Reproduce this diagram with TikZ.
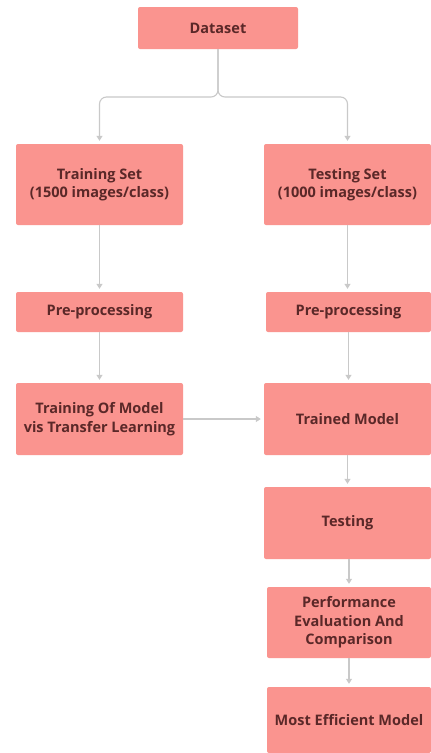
\documentclass[tikz,border=0pt]{standalone}
\usepackage{fontspec}
\setmainfont{Open Sans}
\usetikzlibrary{arrows.meta}
\definecolor{boxfill}{HTML}{FA948F}
\definecolor{boxtext}{HTML}{5A2828}
\definecolor{linegray}{HTML}{C9C9C9}
\begin{document}
\begin{tikzpicture}[x=1pt,y=-1pt,
  box/.style={rectangle, rounded corners=2pt, fill=boxfill, draw=none, text=boxtext,
    font=\fontsize{14.5}{18.5}\selectfont\bfseries, align=center, inner sep=0pt},
  conn/.style={draw=linegray, line width=1.1pt},
  arr/.style={conn, -{Triangle[length=5pt,width=6pt]}, shorten >=3pt}]
\useasboundingbox[fill=white] (0,0) rectangle (431,753);
\node[box, minimum width=160, minimum height=42] (ds) at (218,28) {Dataset};
\node[box, minimum width=167, minimum height=81] (trs) at (99.5,184.5) {Training Set\\(1500 images/class)};
\node[box, minimum width=167, minimum height=81] (tes) at (347.5,184.5) {Testing Set\\(1000 images/class)};
\node[box, minimum width=167, minimum height=40] (ppl) at (99.5,312) {Pre-processing};
\node[box, minimum width=165, minimum height=40] (ppr) at (348.5,312) {Pre-processing};
\node[box, minimum width=167, minimum height=72] (tom) at (99.5,419) {Training Of Model\\vis Transfer Learning};
\node[box, minimum width=167, minimum height=72] (tm) at (347.5,419) {Trained Model};
\node[box, minimum width=167, minimum height=72] (tst) at (347.5,523) {Testing};
\node[box, minimum width=164, minimum height=71] (pe) at (349,622.5) {Performance\\Evaluation And\\Comparison};
\node[box, minimum width=164, minimum height=66] (me) at (349,720) {Most Efficient Model};
\coordinate (jn) at (218,97);
\draw[arr, rounded corners=7pt] (ds.south) -- (jn) -- (jn -| trs.north) -- (trs.north);
\draw[arr, rounded corners=7pt] (ds.south) -- (jn) -- (jn -| tes.north) -- (tes.north);
\draw[arr] (trs.south) -- (ppl.north);
\draw[arr] (tes.south) -- (tes.south |- ppr.north);
\draw[arr] (ppl.south) -- (tom.north);
\draw[arr] (ppr.south) -- (ppr.south |- tm.north);
\draw[arr] (tom.east) -- (tm.west);
\draw[arr] (tm.south) -- (tm.south |- tst.north);
\draw[arr] (tst.south -| pe.north) -- (pe.north);
\draw[arr] (pe.south) -- (me.north);
\end{tikzpicture}
\end{document}
